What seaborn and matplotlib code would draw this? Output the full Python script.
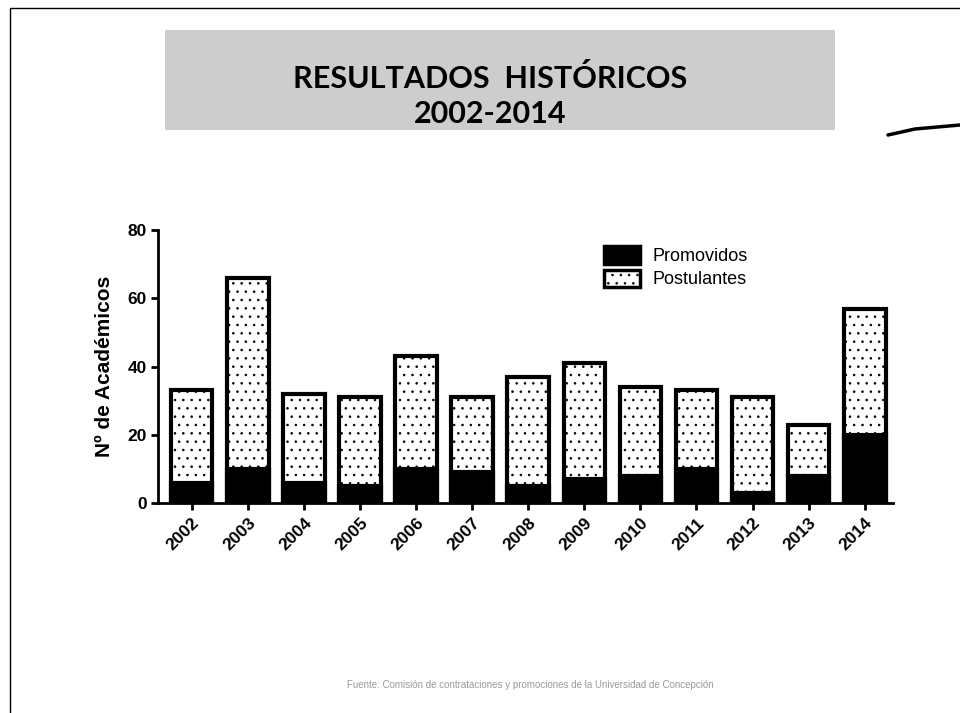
import matplotlib
matplotlib.use("Agg")
import matplotlib.pyplot as plt
import seaborn as sns
import pandas as pd
from matplotlib.patches import Patch, Rectangle
from matplotlib.lines import Line2D

years = ["2002", "2003", "2004", "2005", "2006", "2007", "2008",
         "2009", "2010", "2011", "2012", "2013", "2014"]
postulantes = [33, 66, 32, 31, 43, 31, 37, 41, 34, 33, 31, 23, 57]
promovidos = [6, 10, 6, 5, 10, 9, 5, 7, 8, 10, 3, 8, 20]
y_ticks = [0, 20, 40, 60, 80]

df = pd.DataFrame({"Año": years, "Postulantes": postulantes, "Promovidos": promovidos})

sns.set_theme(style="white")
plt.rcParams["font.family"] = ["Liberation Sans", "DejaVu Sans"]
plt.rcParams["hatch.linewidth"] = 0.6
plt.rcParams["text.color"] = "black"
plt.rcParams["axes.labelcolor"] = "black"
plt.rcParams["xtick.color"] = "black"
plt.rcParams["ytick.color"] = "black"

fig = plt.figure(figsize=(9.6, 7.13), dpi=100)
fig.patch.set_facecolor("white")
ax = fig.add_axes([0.1646, 0.2945, 0.7654, 0.3829])

sns.barplot(data=df, x="Año", y="Postulantes", color="white", edgecolor="black",
            linewidth=3, width=0.74, ax=ax, saturation=1)
n = len(years)
for p in ax.patches[:n]:
    p.set_hatch("..")
    p.set_facecolor("white")
sns.barplot(data=df, x="Año", y="Promovidos", color="black", edgecolor="black",
            linewidth=3, width=0.74, ax=ax, saturation=1)

ax.set_xlim(-0.6, n - 0.5)
ax.set_ylim(0, 80)
ax.set_yticks(y_ticks)
ax.set_xlabel("")
ax.set_ylabel("Nº de Académicos", fontsize=15, fontweight="bold", labelpad=10)
for side in ["top", "right"]:
    ax.spines[side].set_visible(False)
for side in ["left", "bottom"]:
    ax.spines[side].set_linewidth(2)
    ax.spines[side].set_color("black")
ax.tick_params(axis="both", which="major", direction="out", length=5, width=2,
               color="black", bottom=True, left=True)
ax.tick_params(axis="y", labelsize=12.5, pad=3)
ax.tick_params(axis="x", labelsize=12.5, pad=4)
for lbl in ax.get_yticklabels():
    lbl.set_fontweight("bold")
for lbl in ax.get_xticklabels():
    lbl.set_fontweight("bold")
    lbl.set_rotation(45)
    lbl.set_ha("right")
    lbl.set_rotation_mode("anchor")

handles = [Patch(facecolor="black", edgecolor="black", linewidth=2.5),
           Patch(facecolor="white", edgecolor="black", linewidth=2.5, hatch="..")]
leg = ax.legend(handles, ["Promovidos", "Postulantes"], loc="upper left",
                bbox_to_anchor=(0.585, 1.0), frameon=False, fontsize=13,
                handlelength=2.0, handleheight=1.1, handletextpad=0.7,
                labelspacing=0.25)

# Title box
fig.add_artist(Rectangle((165 / 960, 1 - 130 / 713), 670 / 960, 100 / 713,
                         transform=fig.transFigure, facecolor="#cdcdcd",
                         edgecolor="none", zorder=0))
fig.text(490 / 960, 1 - 79 / 713, "RESULTADOS  HISTÓRICOS", ha="center", va="center",
         fontsize=22, fontweight="bold", family=["Lato", "DejaVu Sans"])
fig.text(490 / 960, 1 - 114 / 713, "2002-2014", ha="center", va="center",
         fontsize=22, fontweight="bold", family=["Lato", "DejaVu Sans"])

# Footer
fig.text(530 / 960, 1 - 685 / 713,
         "Fuente: Comisión de contrataciones y promociones de la Universidad de Concepción",
         ha="center", va="center", fontsize=7, color="#9a9a9a")

# Slide frame and decoration
fig.add_artist(Line2D([10 / 960, 10 / 960], [0, 1 - 8 / 713], transform=fig.transFigure,
                      color="black", linewidth=1))
fig.add_artist(Line2D([10 / 960, 1], [1 - 8 / 713, 1 - 8 / 713], transform=fig.transFigure,
                      color="black", linewidth=1))
fig.add_artist(Line2D([888 / 960, 915 / 960, 960 / 960],
                      [1 - 135 / 713, 1 - 129 / 713, 1 - 125 / 713],
                      transform=fig.transFigure, color="black", linewidth=2.5))

fig.savefig("out.png", dpi=100)
